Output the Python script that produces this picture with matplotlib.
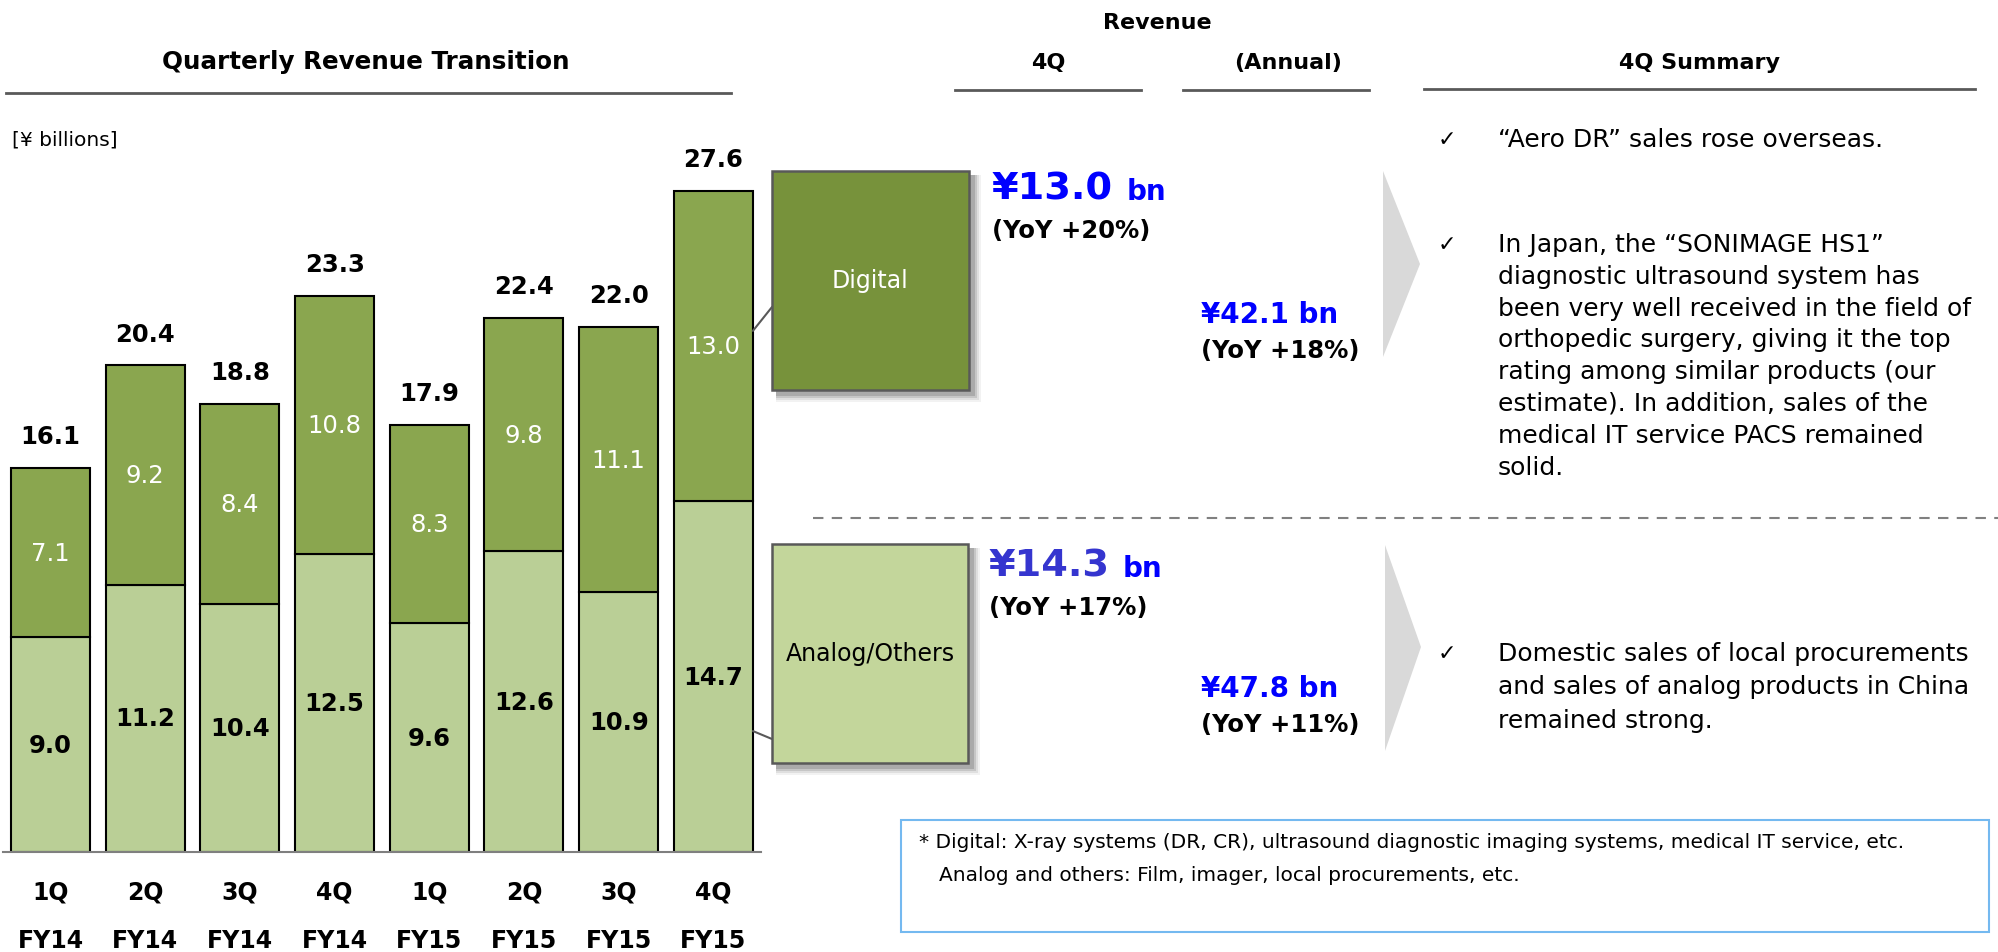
import matplotlib.pyplot as plt
from matplotlib.patches import Rectangle, Polygon, ConnectionPatch
import numpy as np

# データ (単位: 十億円)
quarters = ['1Q', '2Q', '3Q', '4Q', '1Q', '2Q', '3Q', '4Q']
years = ['FY14', 'FY14', 'FY14', 'FY14', 'FY15', 'FY15', 'FY15', 'FY15']
analog = [9.0, 11.2, 10.4, 12.5, 9.6, 12.6, 10.9, 14.7]
digital = [7.1, 9.2, 8.4, 10.8, 8.3, 9.8, 11.1, 13.0]
totals = [16.1, 20.4, 18.8, 23.3, 17.9, 22.4, 22.0, 27.6]

q4_digital = ['¥13.0', 'bn', '(YoY +20%)']
q4_analog = ['¥14.3', 'bn', '(YoY +17%)']
annual_digital = ['¥42.1 bn', '(YoY +18%)']
annual_analog = ['¥47.8 bn', '(YoY +11%)']

bullet_1 = ['“Aero DR” sales rose overseas.']
bullet_2 = ['In Japan, the “SONIMAGE HS1”',
            'diagnostic ultrasound system has',
            'been very well received in the field of',
            'orthopedic surgery, giving it the top',
            'rating among similar products (our',
            'estimate). In addition, sales of the',
            'medical IT service PACS remained',
            'solid.']
bullet_3 = ['Domestic sales of local procurements',
            'and sales of analog products in China',
            'remained strong.']
footnote = ['* Digital: X-ray systems (DR, CR), ultrasound diagnostic imaging systems, medical IT service, etc.',
            'Analog and others: Film, imager, local procurements, etc.']

c_digital = '#8AA64F'
c_analog = '#BACF96'
c_box_digital = '#77923B'
c_box_analog = '#C3D69B'

plt.rcParams['font.family'] = ['DejaVu Sans']

W, H = 1999, 953
fig = plt.figure(figsize=(W / 100, H / 100), dpi=100)

# 棒グラフ用の軸 (ピクセル位置から配置)
step = 94.7
ppu = 23.85
base_px = 853
ax = fig.add_axes([(50.5 - 0.5 * step) / W, (H - base_px) / H, 8 * step / W, 30 * ppu / H])
ax.set_xlim(-0.5, 7.5)
ax.set_ylim(0, 30)
ax.patch.set_alpha(0)
x = np.arange(len(quarters))
bw = 79 / step
ax.bar(x, analog, width=bw, color=c_analog, edgecolor='black', linewidth=1.5)
ax.bar(x, digital, width=bw, bottom=analog, color=c_digital, edgecolor='black', linewidth=1.5)

for i in range(len(x)):
    ax.text(x[i], analog[i] / 2, f'{analog[i]:.1f}', ha='center', va='center',
            fontsize=17.5, fontweight='bold', color='black')
    ax.text(x[i], analog[i] + digital[i] / 2, f'{digital[i]:.1f}', ha='center', va='center',
            fontsize=17.5, color='white')
    ax.annotate(f'{totals[i]:.1f}', xy=(x[i], analog[i] + digital[i]), xytext=(0, 23),
                textcoords='offset points', ha='center', va='center',
                fontsize=17.5, fontweight='bold')

ax.set_xticks(x)
ax.set_xticklabels([q + '\n' + y for q, y in zip(quarters, years)],
                   fontsize=17, fontweight='bold', linespacing=2.25)
ax.tick_params(axis='x', length=0, pad=20)
ax.set_yticks([])
for s in ['top', 'left', 'right']:
    ax.spines[s].set_visible(False)
ax.spines['bottom'].set_color('#7F7F7F')
ax.spines['bottom'].set_linewidth(1.5)

# 注釈用のオーバーレイ (ピクセル座標)
ov = fig.add_axes([0, 0, 1, 1], zorder=3)
ov.set_xlim(0, W)
ov.set_ylim(H, 0)
ov.axis('off')

ov.text(366, 62, 'Quarterly Revenue Transition', ha='center', va='center', fontsize=17.7, fontweight='bold')
ov.plot([6, 731], [94, 94], color='#595959', lw=2)
ov.text(12, 140, '[¥ billions]', ha='left', va='center', fontsize=14.5)

ov.text(1157, 23, 'Revenue', ha='center', va='center', fontsize=16, fontweight='bold')
ov.text(1048, 63, '4Q', ha='center', va='center', fontsize=16, fontweight='bold')
ov.text(1288, 63, '(Annual)', ha='center', va='center', fontsize=16, fontweight='bold')
ov.text(1700, 63, '4Q Summary', ha='center', va='center', fontsize=16, fontweight='bold')
ov.plot([955, 1141], [91, 91], color='#595959', lw=2)
ov.plot([1183, 1369], [91, 91], color='#595959', lw=2)
ov.plot([1424, 1975], [90, 90], color='#595959', lw=2)

# 凡例ボックス (影付き)
def box(x0, y0, x1, y1, fc, label, tc):
    for k, a in zip(range(8, 0, -2), [0.05, 0.08, 0.11, 0.14]):
        ov.add_patch(Rectangle((x0 + 4, y0 + 4), x1 - x0 + k, y1 - y0 + k, fc='black', ec='none', alpha=a))
    ov.add_patch(Rectangle((x0, y0), x1 - x0, y1 - y0, fc=fc, ec='#595959', lw=1.8))
    ov.text((x0 + x1) / 2, (y0 + y1) / 2, label, ha='center', va='center', fontsize=17, color=tc)

box(772, 172, 969, 391, c_box_digital, 'Digital', 'white')
box(772, 545, 968, 764, c_box_analog, 'Analog/Others', 'black')

# 棒と凡例をつなぐ線
cp1 = ConnectionPatch(xyA=(7 + bw / 2, analog[7] + digital[7] * 0.55), coordsA=ax.transData,
                      xyB=(772, 308), coordsB=ov.transData, color='#595959', lw=1.5)
cp2 = ConnectionPatch(xyA=(7 + bw / 2, analog[7] * 0.345), coordsA=ax.transData,
                      xyB=(772, 740), coordsB=ov.transData, color='#595959', lw=1.5)
fig.add_artist(cp1)
fig.add_artist(cp2)

# 4Q 売上
ov.text(992, 200, q4_digital[0], ha='left', va='baseline', fontsize=27.5, fontweight='bold', color='#0000FF')
ov.text(1127, 200, q4_digital[1], ha='left', va='baseline', fontsize=20, fontweight='bold', color='#0000FF')
ov.text(992, 238, q4_digital[2], ha='left', va='baseline', fontsize=17.5, fontweight='bold')
ov.text(989, 577, q4_analog[0], ha='left', va='baseline', fontsize=27.5, fontweight='bold', color='#3535CF')
ov.text(1123, 577, q4_analog[1], ha='left', va='baseline', fontsize=20, fontweight='bold', color='#0000FF')
ov.text(989, 615, q4_analog[2], ha='left', va='baseline', fontsize=17.5, fontweight='bold')

# 通期売上
ov.text(1201, 323, annual_digital[0], ha='left', va='baseline', fontsize=20, fontweight='bold', color='#0000FF')
ov.text(1201, 358, annual_digital[1], ha='left', va='baseline', fontsize=17.5, fontweight='bold')
ov.text(1201, 697, annual_analog[0], ha='left', va='baseline', fontsize=20, fontweight='bold', color='#0000FF')
ov.text(1201, 732, annual_analog[1], ha='left', va='baseline', fontsize=17.5, fontweight='bold')

# 矢印 (三角形)
ov.add_patch(Polygon([(1383, 172), (1420, 265), (1383, 358)], closed=True, fc='#D9D9D9', ec='none'))
ov.add_patch(Polygon([(1385, 546), (1421, 648), (1385, 752)], closed=True, fc='#D9D9D9', ec='none'))

# 破線
ov.plot([813, 1999], [519, 519], color='#808080', lw=1.5, dashes=(5, 4))

# サマリー
def bullets(lines, y0, dy):
    ov.text(1447, y0, '✓', ha='center', va='center', fontsize=16)
    for k, line in enumerate(lines):
        ov.text(1498, y0 + k * dy, line, ha='left', va='center', fontsize=18)

bullets(bullet_1, 140, 32)
bullets(bullet_2, 245, 31.8)
bullets(bullet_3, 654, 33.5)

# 注記ボックス
ov.add_patch(Rectangle((901, 821), 1088, 112, fc='white', ec='#74B9F0', lw=1.5))
ov.text(919, 843, footnote[0], ha='left', va='center', fontsize=14.5)
ov.text(939, 876, footnote[1], ha='left', va='center', fontsize=14.5)

plt.savefig('out.png', dpi=100)
